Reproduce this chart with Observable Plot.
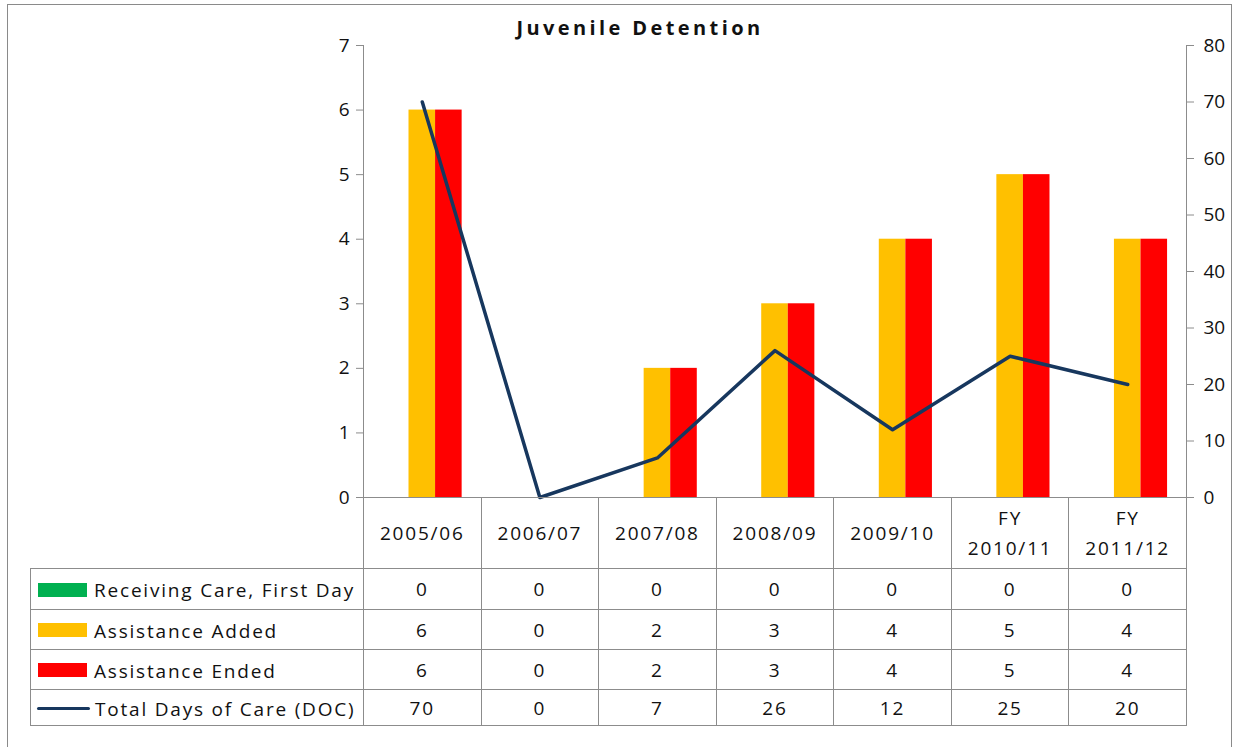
<!DOCTYPE html>
<html>
<head>
<meta charset="utf-8">
<script src="https://cdn.jsdelivr.net/npm/d3@7"></script>
<script src="https://cdn.jsdelivr.net/npm/@observablehq/plot@0.6"></script>
<style>
  html, body { margin: 0; padding: 0; background: #fff; }
  #wrap { position: relative; width: 1235px; height: 747px; overflow: hidden; font-family: "Open Sans", sans-serif; }
  #frame { position: absolute; left: 7px; top: 4px; width: 1225px; height: 800px; border: 1.5px solid #8a8a8a; box-sizing: border-box; }
  #title { position: absolute; left: 0; width: 1280px; top: 14px; text-align: center; font-weight: bold; font-size: 20px; letter-spacing: 3.4px; color: #111; }
  #chart { position: absolute; left: 0; top: 0; }
  table { position: absolute; left: 30px; top: 497px; border-collapse: collapse; table-layout: fixed; font-size: 19px; color: #111; }
  td { border: 1px solid #8c8c8c; padding: 0; text-align: center; letter-spacing: 1.8px; }
  td.leg { text-align: left; white-space: nowrap; }
  .key { display: inline-block; vertical-align: middle; margin-left: 7px; margin-right: 7px; }
</style>
</head>
<body>
<div id="wrap">
  <div id="frame"></div>
  <div id="chart"></div>
  <div id="title">Juvenile Detention</div>
</div>
<script>
const categories = ["2005/06", "2006/07", "2007/08", "2008/09", "2009/10", "FY 2010/11", "FY 2011/12"];
const receivingCare = [0, 0, 0, 0, 0, 0, 0];
const assistanceAdded = [6, 0, 2, 3, 4, 5, 4];
const assistanceEnded = [6, 0, 2, 3, 4, 5, 4];
const totalDaysOfCare = [70, 0, 7, 26, 12, 25, 20];
const leftTicks = [0, 1, 2, 3, 4, 5, 6, 7];
const rightTicks = [0, 10, 20, 30, 40, 50, 60, 70, 80];
const seriesNames = ["Receiving Care, First Day", "Assistance Added", "Assistance Ended", "Total Days of Care (DOC)"];
const seriesColors = ["#00b050", "#ffc000", "#ff0000", "#17375e"];

const W = 1235, H = 747;
const mL = 363, mR = W - 1186, mT = 45, mB = H - 497;
const bw = (W - mL - mR) / categories.length;
const barW = bw * 0.226;
const side = (bw - 3 * barW) / 2;
const ratio = 7 / 80; // right axis -> left axis

const rows = categories.map((c, i) => ({
  cat: c, green: receivingCare[i], yellow: assistanceAdded[i], red: assistanceEnded[i], doc: totalDaysOfCare[i] * ratio
}));

const font = "Open Sans, sans-serif";
const chart = Plot.plot({
  width: W, height: H,
  marginLeft: mL, marginRight: mR, marginTop: mT, marginBottom: mB,
  style: { fontFamily: font, fontSize: "19px", color: "#111", background: "transparent" },
  x: { type: "band", domain: categories, padding: 0, round: false, axis: null },
  y: { domain: [0, 7], axis: null },
  marks: [
    Plot.frame({ anchor: "left", stroke: "#8c8c8c" }),
    Plot.frame({ anchor: "right", stroke: "#8c8c8c" }),
    Plot.axisY(leftTicks, { anchor: "left", tickSize: 7, tickPadding: 7, stroke: "#8c8c8c", fontSize: 19,
      tickFormat: d => String(d) }),
    Plot.axisY(rightTicks.map(v => v * ratio), { anchor: "right", tickSize: 7, tickPadding: 10, stroke: "#8c8c8c", fontSize: 19,
      tickFormat: d => String(Math.round(d / ratio)) }),
    Plot.barY(rows, { x: "cat", y: "green", fill: seriesColors[0], insetLeft: side, insetRight: side + 2 * barW }),
    Plot.barY(rows, { x: "cat", y: "yellow", fill: seriesColors[1], insetLeft: side + barW, insetRight: side + barW }),
    Plot.barY(rows, { x: "cat", y: "red", fill: seriesColors[2], insetLeft: side + 2 * barW, insetRight: side }),
    Plot.line(rows, { x: "cat", y: "doc", stroke: seriesColors[3], strokeWidth: 3.5 })
  ]
});
document.getElementById("chart").appendChild(chart);

// data table under the chart
const wrap = document.getElementById("wrap");
const table = document.createElement("table");
const colgroup = document.createElement("colgroup");
const c0 = document.createElement("col"); c0.style.width = (mL - 30) + "px"; colgroup.appendChild(c0);
categories.forEach(() => { const c = document.createElement("col"); c.style.width = bw + "px"; colgroup.appendChild(c); });
table.appendChild(colgroup);
table.style.width = (mL - 30 + bw * categories.length) + "px";

const head = document.createElement("tr");
head.style.height = "71px";
const h0 = document.createElement("td");
h0.style.borderTop = "none"; h0.style.borderLeft = "none";
head.appendChild(h0);
categories.forEach(c => {
  const td = document.createElement("td");
  td.style.lineHeight = "30px";
  td.innerHTML = c.startsWith("FY ") ? "FY<br>" + c.slice(3) : c;
  head.appendChild(td);
});
table.appendChild(head);

const seriesValues = [receivingCare, assistanceAdded, assistanceEnded, totalDaysOfCare];
const rowHeights = [41, 40, 40, 36];
seriesNames.forEach((name, s) => {
  const tr = document.createElement("tr");
  tr.style.height = rowHeights[s] + "px";
  const td0 = document.createElement("td");
  td0.className = "leg";
  const key = document.createElement("span");
  key.className = "key";
  if (s < 3) { key.style.width = "49px"; key.style.height = "14px"; key.style.background = seriesColors[s]; }
  else { key.style.width = "53px"; key.style.height = "3.5px"; key.style.background = seriesColors[s]; key.style.borderRadius = "2px"; key.style.marginLeft = "6px"; key.style.marginRight = "5px"; }
  td0.appendChild(key);
  const lab = document.createElement("span");
  lab.textContent = name;
  lab.style.verticalAlign = "middle";
  td0.appendChild(lab);
  tr.appendChild(td0);
  seriesValues[s].forEach(v => {
    const td = document.createElement("td");
    td.textContent = v;
    tr.appendChild(td);
  });
  table.appendChild(tr);
});
wrap.appendChild(table);
</script>
</body>
</html>
